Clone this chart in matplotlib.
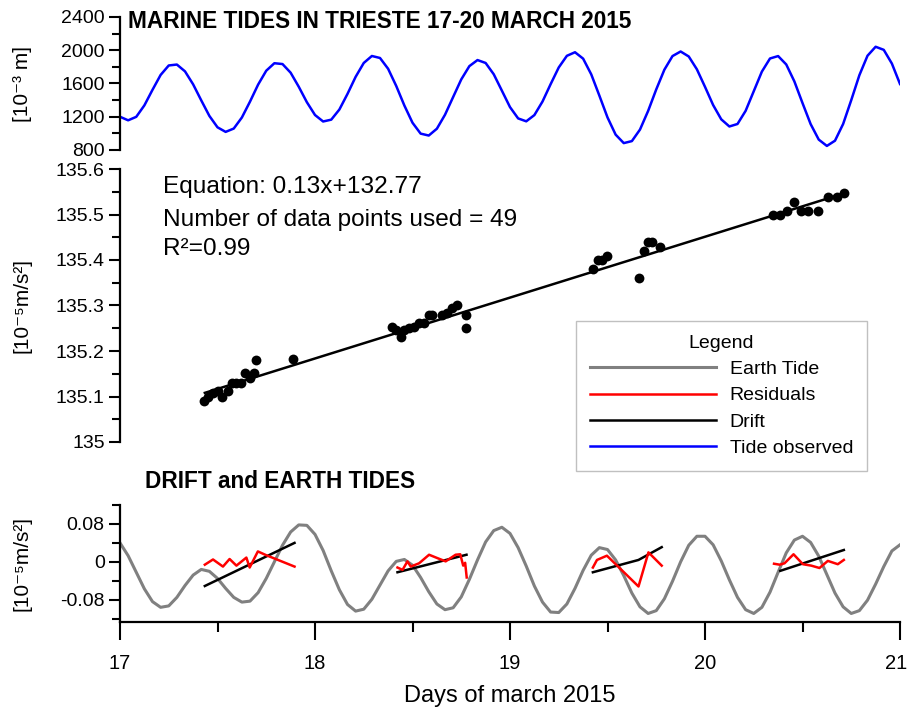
import numpy as np
import matplotlib.pyplot as plt
import matplotlib.transforms as mtransforms
from matplotlib.lines import Line2D
from matplotlib.ticker import MultipleLocator

plt.rcParams['font.family'] = ['Liberation Sans', 'DejaVu Sans']

# hourly samples, 17 March 00:00 -> 21 March 00:00
hours = np.arange(97)
days = 17 + hours / 24

# observed sea level in Trieste [10^-3 m]
tide_observed = [
    1200, 1157, 1199, 1337, 1524, 1703, 1817, 1828, 1746, 1590, 1397, 1210,
    1073, 1018, 1058, 1191, 1382, 1587, 1754, 1844, 1834, 1730, 1561, 1375,
    1221, 1143, 1165, 1287, 1475, 1680, 1847, 1931, 1907, 1777, 1570, 1335,
    1128, 997, 974, 1056, 1224, 1437, 1649, 1809, 1882, 1847, 1711, 1514,
    1316, 1180, 1145, 1220, 1383, 1592, 1793, 1933, 1976, 1899, 1710, 1454,
    1192, 985, 883, 907, 1046, 1270, 1529, 1766, 1930, 1985, 1925, 1771,
    1560, 1341, 1169, 1083, 1113, 1271, 1507, 1743, 1901, 1930, 1829, 1625,
    1365, 1112, 925, 849, 912, 1113, 1400, 1700, 1934, 2042, 2005, 1840,
    1594,
]

# earth tide [10^-5 m/s2]
earth_tide = [
    0.040, 0.013, -0.022, -0.057, -0.084, -0.096, -0.093, -0.075, -0.050, -0.028,
    -0.016, -0.020, -0.035, -0.056, -0.075, -0.085, -0.083, -0.065, -0.035, 0.000,
    0.035, 0.063, 0.078, 0.077, 0.058, 0.024, -0.019, -0.059, -0.090, -0.104,
    -0.100, -0.079, -0.049, -0.019, 0.001, 0.005, -0.007, -0.033, -0.063, -0.089,
    -0.101, -0.097, -0.074, -0.037, 0.004, 0.042, 0.066, 0.073, 0.060, 0.030,
    -0.009, -0.051, -0.085, -0.106, -0.107, -0.089, -0.056, -0.018, 0.014, 0.030,
    0.026, 0.004, -0.029, -0.066, -0.095, -0.109, -0.103, -0.078, -0.041, 0.000,
    0.035, 0.054, 0.054, 0.036, 0.002, -0.038, -0.075, -0.101, -0.109, -0.096,
    -0.064, -0.022, 0.019, 0.046, 0.054, 0.041, 0.012, -0.027, -0.066, -0.095,
    -0.109, -0.103, -0.081, -0.047, -0.010, 0.023, 0.036,
]

# gravity readings [10^-5 m/s2]
grav_days = [
    17.431, 17.452, 17.477, 17.503, 17.523, 17.554, 17.574, 17.597, 17.622, 17.643,
    17.665, 17.687, 17.699, 17.886,
    18.397, 18.414, 18.440, 18.457, 18.483, 18.508, 18.534, 18.559, 18.585, 18.602,
    18.653, 18.678, 18.704, 18.729, 18.772, 18.772,
    19.428, 19.450, 19.471, 19.497, 19.659, 19.686, 19.706, 19.730, 19.769,
    20.349, 20.383, 20.422, 20.456, 20.494, 20.528, 20.579, 20.630, 20.677, 20.712,
]
grav_vals = [
    135.090, 135.100, 135.107, 135.111, 135.100, 135.111, 135.130, 135.130, 135.130, 135.151,
    135.140, 135.152, 135.180, 135.182,
    135.253, 135.246, 135.231, 135.246, 135.250, 135.253, 135.261, 135.261, 135.279, 135.279,
    135.279, 135.283, 135.294, 135.301, 135.279, 135.250,
    135.380, 135.400, 135.400, 135.409, 135.360, 135.420, 135.440, 135.440, 135.428,
    135.499, 135.499, 135.508, 135.528, 135.508, 135.508, 135.508, 135.539, 135.539, 135.548,
]
fit_days = [17.435, 20.717]
fit_vals = [135.108, 135.547]

# drift segments
drift1_days = [17.435, 17.895]
drift1_vals = [-0.051, 0.040]
drift2_days = [18.423, 18.777]
drift2_vals = [-0.022, 0.015]
drift3_days = [19.425, 19.659, 19.778]
drift3_vals = [-0.022, 0.004, 0.031]
drift4_days = [20.386, 20.712]
drift4_vals = [-0.019, 0.025]

# residuals
res1_days = [17.435, 17.477, 17.528, 17.562, 17.597, 17.648, 17.665, 17.707, 17.750, 17.895]
res1_vals = [-0.006, 0.005, -0.010, 0.006, -0.008, 0.009, -0.012, 0.022, 0.014, -0.010]
res2_days = [18.423, 18.449, 18.474, 18.491, 18.534, 18.585, 18.627, 18.670, 18.721, 18.745, 18.760, 18.770, 18.778]
res2_vals = [-0.012, -0.017, 0.001, -0.010, -0.003, 0.015, 0.008, 0.001, 0.015, 0.016, -0.008, -0.002, -0.033]
res3_days = [19.425, 19.446, 19.497, 19.659, 19.710, 19.778]
res3_vals = [-0.012, 0.004, 0.013, -0.052, 0.020, -0.008]
res4_days = [20.354, 20.383, 20.408, 20.454, 20.502, 20.545, 20.587, 20.630, 20.681, 20.712]
res4_vals = [-0.004, -0.006, -0.003, 0.016, -0.005, -0.008, -0.013, 0.002, -0.005, 0.004]

W, H = 907, 713
fig = plt.figure(figsize=(W / 100, H / 100), dpi=100)


def rect(left, top, right, bottom):
    return [left / W, 1 - bottom / H, (right - left) / W, (bottom - top) / H]


def style(ax):
    for s in ['top', 'right', 'bottom']:
        ax.spines[s].set_visible(False)
    ax.spines['left'].set_linewidth(1.6)
    ax.tick_params(axis='y', which='major', direction='out', length=8, width=1.5, labelsize=14, pad=3)
    ax.tick_params(axis='y', which='minor', direction='out', length=6, width=1.5)
    ax.set_xlim(17, 21)
    ax.patch.set_alpha(0)


ax1 = fig.add_axes(rect(120, 17, 900, 150))
ax2 = fig.add_axes(rect(120, 169, 900, 442))
ax3 = fig.add_axes(rect(120, 505, 900, 622))

# marine tide
ax1.plot(days, tide_observed, color='#0000ff', lw=1.8, solid_joinstyle='round')
ax1.set_ylim(800, 2400)
ax1.yaxis.set_major_locator(MultipleLocator(400))
ax1.yaxis.set_minor_locator(MultipleLocator(200))
ax1.set_xticks([])
style(ax1)
ax1.set_ylabel('[10⁻³ m]', fontsize=15)

# gravity + drift fit
ax2.plot(fit_days, fit_vals, color='black', lw=1.8)
ax2.scatter(grav_days, grav_vals, s=50, color='black', zorder=3, linewidths=0)
ax2.set_ylim(135, 135.6)
ax2.yaxis.set_minor_locator(MultipleLocator(0.05))
ax2.set_yticks([135, 135.1, 135.2, 135.3, 135.4, 135.5, 135.6],
               ['135', '135.1', '135.2', '135.3', '135.4', '135.5', '135.6'])
ax2.set_xticks([])
style(ax2)
ax2.set_ylabel('[10⁻⁵m/s²]', fontsize=15)

# earth tides, drift, residuals
ax3.plot(days, earth_tide, color='#808080', lw=2.2, solid_joinstyle='round')
for d, v in [(drift1_days, drift1_vals), (drift2_days, drift2_vals),
             (drift3_days, drift3_vals), (drift4_days, drift4_vals)]:
    ax3.plot(d, v, color='black', lw=1.8)
for d, v in [(res1_days, res1_vals), (res2_days, res2_vals),
             (res3_days, res3_vals), (res4_days, res4_vals)]:
    ax3.plot(d, v, color='#ff0000', lw=1.8)
ax3.set_ylim(-0.127, 0.12)
ax3.set_yticks([-0.08, 0, 0.08], ['-0.08', '0', '0.08'])
ax3.yaxis.set_minor_locator(MultipleLocator(0.04))
style(ax3)
ax3.spines['bottom'].set_visible(True)
ax3.spines['bottom'].set_linewidth(1.6)
ax3.set_xticks([17, 18, 19, 20, 21], ['17', '18', '19', '20', '21'])
ax3.xaxis.set_minor_locator(MultipleLocator(0.5))
ax3.tick_params(axis='x', which='major', direction='out', length=13, width=1.5, labelsize=14.5, pad=10)
ax3.tick_params(axis='x', which='minor', direction='out', length=7, width=1.5)
ax3.set_ylabel('[10⁻⁵m/s²]', fontsize=15)
ax3.set_xlabel('Days of march 2015', fontsize=17, labelpad=9)
last = ax3.get_xticklabels()[-1]
last.set_ha('right')
last.set_transform(last.get_transform() + mtransforms.ScaledTranslation(7 / 100, 0, fig.dpi_scale_trans))

for ax in (ax1, ax2, ax3):
    ax.yaxis.set_label_coords(-0.113, 0.5)

fig.text(128 / W, 1 - 22 / H, 'MARINE TIDES IN TRIESTE 17-20 MARCH 2015',
         fontsize=16.3, fontweight='bold', va='center', ha='left')
fig.text(145 / W, 1 - 482 / H, 'DRIFT and EARTH TIDES',
         fontsize=16.3, fontweight='bold', va='center', ha='left')
fig.text(163 / W, 1 - 187 / H, 'Equation: 0.13x+132.77', fontsize=17.6, va='center')
fig.text(163 / W, 1 - 220 / H, 'Number of data points used = 49', fontsize=17.6, va='center')
fig.text(163 / W, 1 - 249 / H, 'R²=0.99', fontsize=17.6, va='center')

handles = [Line2D([], [], color='#808080', lw=2.2),
           Line2D([], [], color='#ff0000', lw=1.8),
           Line2D([], [], color='black', lw=1.8),
           Line2D([], [], color='#0000ff', lw=1.8)]
leg = fig.legend(handles, ['Earth Tide', 'Residuals', 'Drift', 'Tide observed'],
                 title='Legend', loc='upper left', bbox_to_anchor=(576 / W, 1 - 321 / H),
                 borderaxespad=0, fontsize=14, title_fontsize=14, handlelength=6.5,
                 handletextpad=0.7, labelspacing=0.45, borderpad=0.7, fancybox=False,
                 framealpha=1, edgecolor='#c0c0c0')
leg.get_frame().set_linewidth(1.0)

fig.savefig('out.png', dpi=100)
